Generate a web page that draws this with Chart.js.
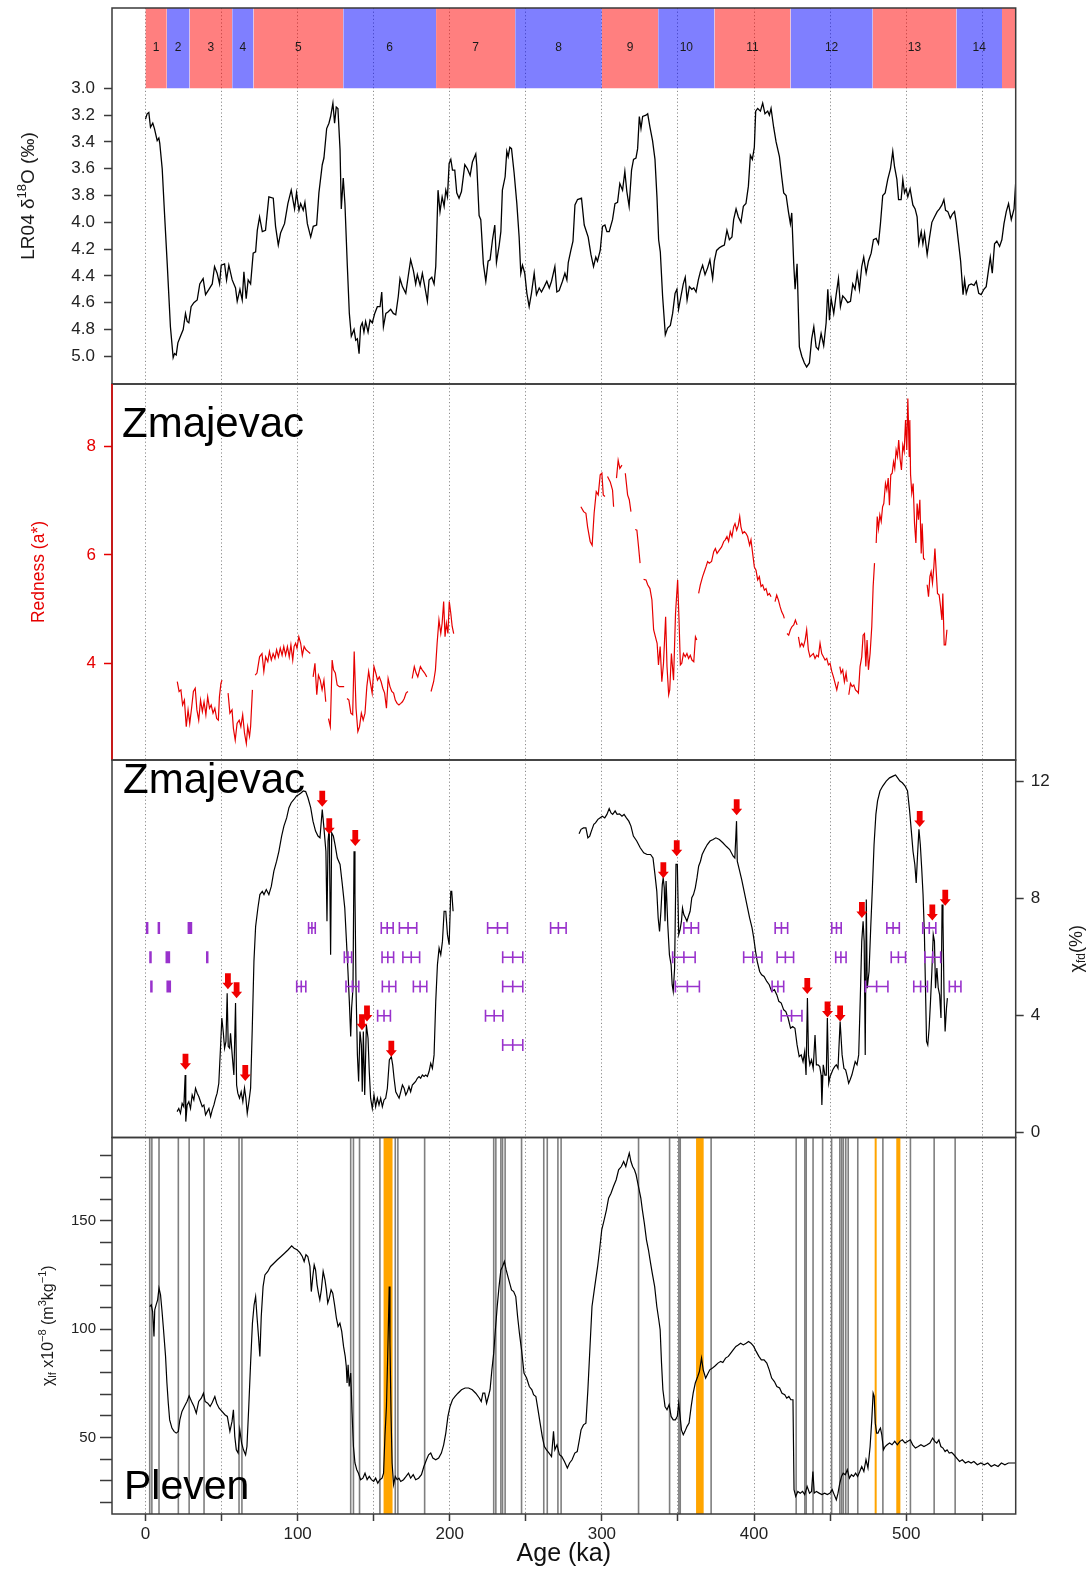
<!DOCTYPE html>
<html>
<head>
<meta charset="utf-8">
<script src="https://cdn.jsdelivr.net/npm/chart.js@4.4.0/dist/chart.umd.min.js"></script>
<style>
  html, body { margin: 0; padding: 0; background: #fff; }
  #wrap { position: relative; width: 1089px; height: 1571px; }
  #wrap canvas { position: absolute; left: 0; top: 0; }
</style>
</head>
<body>
<div id="wrap">
  <canvas id="c1" width="1089" height="1571"></canvas>
  <canvas id="c2" width="1089" height="1571"></canvas>
  <canvas id="c3" width="1089" height="1571"></canvas>
  <canvas id="c4" width="1089" height="1571"></canvas>
</div>
<script>
// ---- data (age in ka) ----
const misStart = [0, 14, 29, 57, 71, 130, 191, 243, 300, 337, 374, 424, 478, 533, 563];
const misEnd   = [14, 29, 57, 71, 130, 191, 243, 300, 337, 374, 424, 478, 533, 563, 572];
const misLabel = ['1','2','3','4','5','6','7','8','9','10','11','12','13','14',''];

// LR04 benthic d18O [age, permil]
const d18O = [[0,3.23],[1.1,3.19],[2.2,3.18],[3.3,3.29],[4.8,3.26],[5.9,3.30],[7.7,3.39],[8.8,3.37],[9.4,3.41],[11,3.60],[12.5,3.93],[14.3,4.31],[16.4,4.78],[18.2,5.01],[19.1,4.98],[20.2,4.99],[21.3,4.90],[23,4.85],[24.8,4.80],[26.3,4.68],[27.4,4.74],[28.5,4.75],[30,4.63],[31.8,4.60],[34,4.58],[35.7,4.46],[37.9,4.42],[39.5,4.54],[41.7,4.50],[43.9,4.46],[45.4,4.33],[47.1,4.38],[48.7,4.46],[49.8,4.32],[52,4.31],[53.3,4.43],[54.8,4.32],[57,4.43],[59.2,4.49],[60.3,4.59],[62.1,4.50],[63.6,4.58],[64.7,4.37],[66.2,4.57],[67.5,4.43],[69.1,4.46],[70.8,4.23],[72.4,4.22],[73.5,4.06],[75,3.96],[76.8,4.07],[78.9,4.06],[81.1,3.81],[84,3.82],[85.5,4.03],[87.3,4.17],[88.8,4.08],[91.4,4.01],[93.6,3.86],[95.8,3.76],[98,3.90],[99.3,3.78],[100.9,3.91],[102,3.86],[103.7,3.91],[104.8,3.85],[106.4,4.01],[108.6,4.11],[110.3,4.03],[112.5,4.02],[114,3.78],[116.2,3.57],[117.3,3.52],[119.1,3.30],[120.6,3.26],[121.7,3.21],[123.2,3.11],[124.3,3.26],[125.4,3.14],[126.5,3.15],[127.9,3.46],[128.7,3.90],[130,3.67],[131.1,3.86],[132.7,4.33],[134,4.68],[135.3,4.85],[137.1,4.80],[138.2,4.88],[139.3,4.87],[140.4,4.98],[141.4,4.78],[142.5,4.75],[143.6,4.82],[144.7,4.74],[146.3,4.82],[147.6,4.73],[149.1,4.75],[150.7,4.68],[152.4,4.63],[154.2,4.63],[155.3,4.52],[156.4,4.78],[158,4.68],[159.4,4.67],[161.2,4.65],[162.9,4.68],[164.5,4.69],[166.2,4.55],[167.3,4.42],[168.9,4.48],[171.1,4.53],[172.6,4.41],[174.3,4.28],[176.1,4.36],[177.6,4.46],[178.7,4.39],[180.5,4.47],[182,4.38],[183.6,4.48],[185.3,4.59],[186.4,4.43],[188.2,4.41],[189.7,4.46],[190.8,4.33],[192.3,3.76],[193.6,3.92],[195,3.81],[196.3,3.88],[197.4,3.76],[198.5,3.81],[199.6,3.56],[200.7,3.53],[201.8,3.61],[203.3,3.61],[204.6,3.78],[206.1,3.82],[207.7,3.77],[209.9,3.57],[211.6,3.60],[213.4,3.65],[214.9,3.55],[217.1,3.49],[217.8,3.58],[219.3,3.95],[220.4,3.98],[222.1,4.31],[223.7,4.44],[225.2,4.29],[226.5,4.28],[228.1,4.13],[229.6,4.02],[230.7,4.30],[232.5,4.17],[233.6,4.07],[234.6,3.76],[236.4,3.66],[237.5,3.47],[238.4,3.51],[239.5,3.44],[240.6,3.45],[242.3,3.63],[244.1,3.86],[245.6,4.11],[246.7,4.38],[247.8,4.32],[249.3,4.38],[250.7,4.53],[252.2,4.63],[253.7,4.53],[255.5,4.38],[257,4.54],[258.8,4.49],[260.3,4.52],[262.1,4.48],[263.8,4.44],[265.4,4.49],[266.9,4.44],[269.1,4.33],[270.4,4.52],[271.9,4.51],[274.1,4.44],[275.7,4.38],[277,4.43],[277.9,4.30],[279.6,4.21],[281,4.14],[282.3,3.87],[284,3.83],[286.6,3.82],[288.4,4.02],[291,4.11],[292.8,4.24],[294.5,4.33],[296,4.26],[297.1,4.29],[298.9,4.21],[300.4,4.03],[302,4.02],[303.3,4.07],[304.8,4.07],[307,3.98],[308.6,3.86],[310.3,3.85],[311.8,3.71],[313.6,3.76],[315.1,3.62],[316.4,3.77],[317.9,3.88],[319.5,3.61],[320.8,3.53],[322.4,3.52],[323.5,3.45],[324.6,3.21],[325.7,3.30],[326.8,3.21],[329,3.20],[330.1,3.19],[331.6,3.29],[333.3,3.39],[334.9,3.53],[336.2,3.81],[337.3,4.13],[338.4,4.22],[339.9,4.55],[341.7,4.84],[343.2,4.79],[345,4.77],[346.5,4.68],[348.1,4.53],[349.3,4.50],[350.4,4.65],[352,4.55],[353.5,4.46],[354.8,4.41],[356,4.58],[357.5,4.48],[359.1,4.50],[360.4,4.49],[361.9,4.52],[363.4,4.43],[364.7,4.37],[366.2,4.32],[367.8,4.39],[369.5,4.34],[371,4.28],[372.8,4.42],[373.9,4.29],[375.4,4.21],[377.2,4.19],[378.7,4.18],[380.5,4.17],[382.2,4.06],[383.8,4.13],[385.5,4.11],[386.6,3.98],[388.2,3.90],[389.7,3.96],[391.4,4.00],[393,3.88],[394.7,3.86],[396.3,3.73],[397.6,3.50],[398.9,3.53],[400.2,3.44],[401.1,3.17],[402.4,3.15],[404.2,3.17],[405.7,3.11],[407.2,3.19],[409,3.17],[410.1,3.20],[411.2,3.15],[412.9,3.29],[414.5,3.40],[416.7,3.51],[418.2,3.66],[419.5,3.78],[421.1,3.80],[422.6,3.92],[423.9,4.01],[424.8,3.93],[426.1,4.31],[427,4.50],[428.3,4.31],[429.8,4.93],[431.4,5.00],[433.1,5.05],[434.6,5.08],[436.4,5.05],[437.9,4.87],[439.3,4.78],[440.8,4.93],[442.3,4.95],[444.1,4.83],[445.8,4.92],[447.4,4.75],[448.5,4.50],[449.6,4.73],[450.7,4.57],[452.4,4.68],[454,4.54],[455.5,4.42],[456.8,4.63],[458.3,4.55],[459.9,4.57],[461.6,4.60],[463.4,4.59],[464.9,4.46],[466.4,4.50],[467.8,4.38],[469.3,4.50],[470.8,4.33],[472.1,4.26],[473.7,4.38],[475.2,4.29],[477,4.23],[478.5,4.13],[480.3,4.12],[481.8,4.16],[483.1,4.01],[484.6,3.80],[486.2,3.78],[487.9,3.68],[489.7,3.60],[491.2,3.47],[492.3,3.58],[493.9,3.68],[495,3.83],[496.7,3.83],[497.8,3.68],[498.9,3.78],[500,3.75],[501.1,3.81],[502.6,3.75],[504.4,3.87],[505.9,3.90],[507.2,3.96],[508.3,4.16],[509.9,4.07],[511,4.16],[512.1,4.08],[513.8,4.24],[515.4,4.11],[516.9,4.00],[518.6,3.96],[520.4,3.92],[521.9,3.90],[523.5,3.87],[524.8,3.83],[525.9,3.91],[527.4,3.92],[529,3.97],[530.3,3.94],[531.8,3.92],[532.9,4.00],[534.5,4.16],[535.8,4.29],[537.4,4.54],[538.4,4.43],[539.5,4.53],[541.1,4.47],[542.8,4.46],[544.6,4.47],[546.1,4.44],[547.7,4.53],[549.3,4.54],[551.1,4.50],[552.6,4.48],[553.7,4.39],[555.3,4.26],[556.6,4.38],[558.1,4.16],[559.6,4.14],[561.4,4.18],[562.9,4.13],[564.3,4.01],[565.8,3.92],[567.3,3.86],[569.1,3.98],[570.9,3.90],[572.4,3.63]];

// Zmajevac redness a* [age, a*]; null = gap in record
const redness = [[20.9,3.66],[22.1,3.48],[23.3,3.51],[24.4,3.23],[25.6,3.32],[26.8,2.83],[28,3.14],[29.1,2.89],[30.3,3.17],[31.5,3.48],[32.7,3.54],[33.8,3.14],[35,2.95],[36.2,3.32],[37.4,3.11],[38.5,3.29],[39.7,3.05],[40.9,3.38],[42.1,3.17],[43.2,3.23],[44.4,3.08],[45.6,3.17],[46.8,2.98],[47.9,2.95],[48.6,3.38],[49.6,3.63],[50.3,3.69],[52,null],
[54.3,3.45],[55.5,3.08],[56.9,3.14],[57.8,2.80],[59,2.58],[60.2,2.89],[61.6,2.95],[62.7,2.83],[63.9,3.05],[65.1,2.71],[66.3,2.52],[67.2,2.83],[68.4,2.65],[69.1,2.83],[70.3,3.51],[71.2,null],
[72.1,3.78],[73.3,3.82],[75,4.12],[76.6,4.18],[77.8,3.85],[79,4.12],[80.4,4.03],[81.5,4.22],[82.7,4.06],[83.9,4.18],[85.1,4.09],[86.2,4.25],[87.4,4.12],[88.6,4.28],[89.8,4.15],[90.9,4.31],[92.1,4.15],[93.3,4.31],[94.5,4.12],[95.6,4.34],[96.8,4.06],[97.7,4.31],[98.7,4.37],[99.6,4.28],[100.8,4.49],[102,4.37],[103.1,4.15],[104.3,4.31],[105.5,4.25],[106.7,4.22],[108.3,4.18],[109.2,null],
[110.2,3.75],[111.4,4.00],[112.6,3.42],[113.7,3.78],[114.9,3.69],[116.1,3.51],[117.3,3.69],[118.5,3.29],[119.4,null],
[120.3,2.98],[121.5,2.83],[122.7,4.06],[123.6,3.88],[124.8,3.82],[126,3.60],[127.4,3.57],[129,3.57],[130.6,3.57],[131.5,null],
[132.5,3.35],[133.7,3.32],[135,3.08],[136.2,3.05],[137.2,4.22],[138.4,3.17],[139.6,2.74],[140.7,2.83],[141.9,3.08],[143.1,2.95],[144.3,3.08],[145.5,3.57],[146.7,3.85],[147.9,3.63],[149,3.45],[150.2,3.94],[151.4,3.82],[152.5,3.69],[153.7,3.75],[154.9,3.66],[156,3.54],[157.2,3.45],[158.4,3.17],[159.5,3.72],[160.7,3.57],[161.9,3.48],[163.1,3.45],[164.2,3.32],[165.4,3.26],[166.6,3.23],[167.8,3.26],[168.9,3.29],[170.1,3.35],[171.3,3.45],[172.5,3.48],[174,null],
[175.3,3.72],[176.7,3.94],[177.9,3.82],[179,3.75],[180.7,3.94],[181.9,3.88],[183.5,3.82],[184.9,3.75],[186.3,null],
[187.7,3.48],[189.4,3.66],[190.6,3.88],[191.7,4.37],[192.9,4.80],[194.1,4.55],[195,4.74],[196,5.14],[196.9,4.49],[197.8,4.74],[198.8,4.55],[199.7,5.14],[200.7,4.92],[201.6,4.68],[202.6,4.55],[244,null],
[286.2,6.89],[288,6.80],[289.5,6.77],[290.6,6.52],[292.3,6.25],[293.6,6.18],[294.9,6.77],[296.3,7.17],[297.6,7.11],[298.9,7.48],[300,7.51],[300.9,7.11],[302,7.08],[302.8,null],
[303.7,7.45],[305.5,7.35],[307,7.20],[307.7,6.89],[308.6,null],
[309.6,7.42],[310.7,7.75],[311.8,7.60],[313.2,7.66],[314.3,null],
[315.4,7.51],[316.9,7.11],[318,7.02],[319.1,6.80],[320.5,null],
[321.9,6.47],[323,6.46],[324,6.18],[325.1,5.85],[326.2,null],
[327.4,5.55],[329,5.54],[330.1,5.45],[331.6,5.38],[332.9,5.17],[334,4.62],[335.2,4.49],[336.3,4.37],[337.2,3.97],[338.3,4.31],[339.4,3.66],[340.5,4.00],[341.9,4.86],[342.8,3.94],[343.9,3.42],[344.6,3.51],[345.7,4.18],[347.1,3.69],[348.4,4.92],[349.8,5.54],[350.7,4.80],[351.6,3.97],[352.5,4.00],[353.6,4.18],[354.8,4.12],[355.9,4.18],[357,4.09],[358.1,4.15],[359.2,4.06],[360.4,4.03],[361.5,4.49],[362.4,4.43],[363,null],
[363.6,5.29],[364.7,5.45],[366.2,5.60],[367.3,5.69],[368.4,5.78],[369.5,5.88],[370.6,5.85],[372.1,5.88],[373.5,6.06],[374.6,6.12],[375.7,6.03],[377.2,6.09],[378.7,6.15],[380.1,6.25],[381.1,6.28],[382.2,6.34],[383.3,6.25],[384.4,6.43],[385.5,6.34],[386.6,6.52],[387.5,6.58],[388.6,6.46],[389.7,6.55],[390.6,6.71],[391.4,6.52],[392.5,6.40],[393.6,6.43],[394.7,6.40],[395.8,6.34],[397.1,6.18],[398,6.28],[399.1,6.03],[400.2,5.78],[401.3,5.72],[402.4,5.54],[403.5,5.60],[404.6,5.42],[405.7,5.45],[406.8,5.35],[407.9,5.38],[409,5.26],[410.1,5.29],[411.2,5.23],[412.5,null],
[413.8,5.14],[414.9,5.26],[416,5.17],[417.1,5.05],[418.2,4.95],[419.3,4.89],[419.9,4.83],[420.8,null],
[421.7,4.55],[422.8,4.52],[423.9,4.62],[425,4.68],[426.1,4.71],[427.2,4.80],[428.3,4.71],[428.8,null],
[429.2,4.49],[430.3,4.31],[431.4,4.37],[432.5,4.31],[433.6,4.43],[434.6,4.62],[435.7,4.25],[436.8,4.12],[437.9,4.15],[439,4.18],[440.1,4.09],[441.2,4.15],[442.3,4.12],[443.4,4.37],[444.5,4.18],[445.6,4.12],[446.7,4.06],[447.8,4.09],[448.9,3.97],[450,4.00],[451.1,3.85],[452.2,3.75],[453.3,3.63],[454.4,3.51],[455.5,3.66],[456,null],
[456.4,3.94],[457.2,3.82],[458.3,3.88],[459.4,3.66],[460.5,3.82],[461.2,3.66],[461.8,null],
[462.3,3.42],[463.4,3.63],[464.5,3.57],[465.6,3.60],[466.7,3.51],[467.8,3.48],[468.6,3.45],[469.7,3.94],[470.8,4.12],[471.7,4.52],[472.6,4.55],[473.5,3.94],[474.3,4.43],[475.2,3.88],[476.3,4.18],[477.4,4.68],[478.3,5.42],[479.2,5.85],[479.8,null],
[480.3,6.22],[481,6.71],[481.8,6.49],[482.7,6.74],[483.6,6.62],[484.5,6.89],[485.3,6.95],[486.4,7.32],[487.3,7.20],[488.2,7.42],[489,6.92],[489.9,7.48],[490.8,7.51],[491.7,7.72],[492.5,7.60],[493.4,7.94],[494.3,7.82],[495.1,8.12],[496,7.78],[496.9,7.57],[497.8,8.03],[498.7,7.91],[499.6,8.49],[500.4,7.94],[501.1,8.89],[501.5,8.46],[502,7.82],[502.4,8.49],[502.9,7.48],[503.7,7.14],[504.6,7.32],[505.5,6.58],[506.4,6.22],[507.2,6.95],[508.1,6.65],[509,7.02],[509.9,6.03],[510.5,6.58],[511.4,5.94],[512.3,5.91],[513,null],
[513.8,5.45],[514.7,5.23],[515.6,5.60],[516.4,5.69],[517.3,5.48],[518.2,5.78],[518.9,6.12],[519.7,5.72],[520.6,5.29],[521.7,5.26],[522.6,5.05],[523.5,4.80],[524.1,5.29],[525,4.34],[525.9,4.34],[526.8,4.62]];

// Zmajevac chi_fd (%) [age, %]
const chiFd = [[20.8,0.72],[21.9,0.83],[23,0.66],[24.1,1.00],[25.2,0.89],[26.1,1.97],[26.5,0.38],[27.4,0.95],[28.5,1.06],[29.6,0.83],[30.7,1.29],[31.8,1.12],[32.9,1.52],[34,1.35],[35.1,1.23],[36.2,1.06],[37.3,0.89],[38.4,0.95],[39.5,0.61],[40.6,0.72],[41.7,0.83],[42.8,0.55],[43.9,0.78],[45,0.95],[46.1,1.18],[47.1,1.35],[48.2,1.69],[49.3,2.89],[50.2,3.92],[51.1,3.46],[52,2.89],[52.9,3.12],[53.7,4.77],[54.4,2.95],[55.3,2.89],[55.9,3.40],[57,2.66],[58.1,1.97],[59.2,4.43],[59.9,1.63],[60.7,1.35],[61.8,1.18],[62.9,1.40],[64,1.06],[65.1,1.52],[66,1.18],[66.9,0.66],[68,1.06],[69.1,1.52],[70.2,3.57],[71.3,5.86],[72.4,7.05],[73.9,7.68],[75.2,8.14],[76.8,8.25],[77.9,8.14],[79.4,8.31],[81.1,8.14],[82.7,8.42],[84.4,8.94],[86.2,9.28],[87.7,9.62],[89.5,10.14],[91,10.48],[92.8,10.76],[94.3,11.11],[95.8,11.28],[97.6,11.39],[99.3,11.51],[100.9,11.56],[102.4,11.62],[103.7,11.68],[105.3,11.66],[106.8,11.45],[108.6,11.11],[110.1,10.65],[111.8,10.31],[113.4,10.14],[114.7,10.08],[116.2,11.05],[117.3,10.42],[118.6,9.62],[119.3,7.23],[120,9.97],[120.8,10.42],[121.7,6.08],[122.4,10.25],[123.5,10.14],[124.6,9.85],[126.1,9.39],[127.9,9.17],[129.4,8.48],[131,7.68],[132,6.66],[133.1,5.51],[134,4.49],[134.9,3.29],[135.5,4.26],[136.4,4.94],[137.1,9.62],[137.7,8.14],[138.4,4.94],[139.3,2.66],[140.1,1.75],[141,3.46],[141.9,3.00],[142.5,1.40],[143.2,3.46],[144.1,1.29],[145.2,3.69],[146.3,3.23],[147.1,2.09],[148,1.18],[149.1,0.83],[150.2,1.29],[151.3,0.89],[152.4,1.18],[153.5,0.95],[154.6,1.18],[155.7,0.89],[156.8,1.12],[157.9,1.18],[159,1.52],[160.3,2.49],[161.6,2.60],[162.5,2.32],[163.4,1.86],[164.5,1.40],[165.6,1.29],[166.7,1.18],[167.8,1.40],[168.9,1.63],[170,1.52],[171.1,1.29],[172.1,1.40],[173.2,1.58],[174.3,1.40],[175.4,1.63],[176.5,1.69],[177.6,1.75],[178.7,1.86],[179.8,1.92],[180.9,1.86],[182,1.97],[183.1,1.92],[184.2,1.97],[185.3,1.92],[186.4,2.09],[187.5,2.37],[188.6,2.20],[189.7,2.66],[190.8,4.49],[191.9,5.74],[193,6.31],[194.1,6.08],[195.2,6.54],[196.3,7.57],[197.4,7.57],[198.5,6.77],[199.6,6.43],[200.7,8.25],[201.3,8.25],[202.2,7.57],[240,null],
[285,10.22],[286.3,10.37],[287.9,10.42],[289.5,10.42],[290.8,10.08],[292,10.14],[293.1,10.31],[294.7,10.54],[295.8,10.59],[297.4,10.71],[298.7,10.76],[300.3,10.82],[301.9,10.76],[303.3,10.88],[304.8,11.08],[306,10.93],[307.1,10.88],[308.7,11.0],[310,10.88],[311.6,10.90],[313.2,10.82],[314.6,10.88],[316.1,10.76],[317.7,10.65],[319.1,10.48],[320.7,10.14],[322.9,9.97],[325.2,9.74],[327.5,9.57],[329.7,9.51],[332,9.51],[333.6,9.39],[334.9,8.82],[336.1,8.25],[337,7.34],[337.9,6.88],[338.8,7.57],[339.7,8.48],[340.3,8.71],[341,8.37],[341.5,7.23],[342.2,8.60],[343.3,7.11],[344.4,6.08],[345.5,5.74],[346.2,5.06],[346.9,4.83],[347.8,5.63],[348.7,9.17],[349.6,9.17],[350.5,6.77],[351.4,6.94],[352.3,7.23],[353,7.68],[353.9,7.45],[355,7.34],[355.9,7.23],[356.9,7.40],[358,7.57],[359.1,8.03],[360.2,8.14],[361.4,8.37],[362.5,8.71],[363.6,9.11],[364.8,9.28],[365.9,9.51],[367.5,9.68],[369.3,9.85],[371.1,9.97],[373.1,10.02],[374.9,10.08],[377.2,10.02],[379.5,9.91],[381.7,9.79],[384,9.68],[386.3,9.45],[387.4,9.39],[388.5,10.65],[389,9.28],[390.3,9.00],[391.9,8.65],[393.5,8.25],[395.3,7.80],[397.1,7.34],[398.7,7.00],[399.8,6.66],[401,6.20],[402.1,5.86],[403.7,5.51],[405,5.40],[406.6,5.34],[408.4,5.17],[410,5.06],[411.6,4.83],[413.4,4.89],[415,4.71],[416.3,4.49],[417.9,4.43],[419.5,4.20],[420.9,4.14],[422.4,3.92],[424,3.57],[425.4,3.63],[426.9,3.57],[428.3,3.00],[429.7,2.60],[431,2.66],[432.2,2.43],[433.3,2.77],[434.2,1.97],[435.1,4.60],[435.8,2.66],[436.7,2.32],[437.8,2.49],[438.9,2.20],[440.1,3.34],[441,2.32],[442.1,2.32],[443.2,2.26],[444.1,1.97],[444.6,0.95],[445.5,2.32],[446.6,1.97],[447.5,1.97],[448.2,3.92],[449.1,1.69],[450,1.92],[450.9,2.03],[451.8,2.15],[453,2.26],[454.1,2.32],[455.2,2.20],[456.6,3.80],[457.9,2.66],[459.1,2.20],[460.2,2.15],[461.3,1.92],[462.2,1.69],[463.1,1.80],[464.3,1.97],[465.4,2.20],[466.5,2.43],[467.7,2.32],[468.8,2.66],[469.9,4.71],[470.8,6.54],[471.7,7.23],[472.4,6.54],[473.1,2.66],[473.8,7.97],[474.4,4.94],[475.6,5.51],[476.7,7.00],[477.8,8.37],[478.9,9.85],[480.1,10.88],[481.2,11.34],[482.8,11.68],[484.6,11.85],[486.9,12.02],[489.1,12.13],[491.4,12.19],[493,12.23],[494.4,12.13],[495.9,12.02],[497.5,11.96],[499.3,11.85],[500.9,11.68],[502.3,10.99],[503.4,10.31],[504.5,9.62],[505.7,9.17],[506.6,8.54],[507.5,9.51],[508.4,10.37],[509.3,9.85],[510.2,9.05],[511.1,8.14],[512,6.77],[512.7,4.94],[513.4,3.12],[514.2,3.00],[515.1,3.57],[516,4.49],[516.9,5.51],[517.8,6.77],[518.6,6.54],[519.3,4.94],[520.2,5.63],[521.1,4.94],[522,4.71],[522.9,3.92],[523.6,7.80],[524.2,7.23],[524.9,4.71],[525.6,3.46],[526.5,4.26],[527.1,4.60]];

// red arrows on chi_fd: age, arrow tip value
const arrowAge = [26.3, 54.2, 59.9, 65.6, 116.2, 120.8, 137.9, 142.3, 145.6, 161.6, 340.4, 349.2, 388.6, 435, 448.3, 456.6, 470.9, 508.9, 517.2, 525.7];
const arrowVal = [2.15, 4.9, 4.6, 1.77, 11.14, 10.2, 9.8, 3.5, 3.8, 2.6, 8.7, 9.45, 10.85, 4.74, 3.94, 3.8, 7.34, 10.45, 7.25, 7.76];

// purple age markers: age, +/- error, row level on chi_fd axis
const markAge = [1.1, 8.8, 29.2, 109.4, 158.9, 172.6, 231.4, 271.4, 358.7, 418.0, 454.2, 491.4, 515.2,
                 3.3, 14.7, 40.6, 133.1, 159.3, 174.7, 241.4, 353.9, 399.2, 420.6, 457.1, 494.9, 517.5,
                 3.9, 15.3, 102.4, 136.0, 160.1, 180.5, 241.4, 356.2, 415.7, 480.6, 509.5, 532.2,
                 156.8, 229.2, 424.7,
                 241.4];
const markErr = [0.3, 0.3, 1.0, 2.2, 3.9, 5.7, 6.5, 5.1, 4.8, 4.1, 3.1, 4.1, 4.3,
                 0.3, 1.0, 0.3, 2.4, 3.8, 5.5, 6.6, 7.4, 6.0, 5.4, 3.4, 4.7, 5.2,
                 0.3, 1.0, 3.0, 4.2, 4.4, 4.4, 6.6, 7.9, 3.8, 7.4, 4.5, 3.8,
                 4.2, 5.7, 6.8,
                 6.6];
const markRow = [7,7,7,7,7,7,7,7,7,7,7,7,7,
                 6,6,6,6,6,6,6,6,6,6,6,6,6,
                 5,5,5,5,5,5,5,5,5,5,5,5,
                 4,4,4,
                 3];

// Pleven chi_lf x1e-8 m3/kg [age, value]
const chiLf = [[2.8,110.4],[3.8,111.2],[4.7,108.1],[5.6,96.6],[6.1,108.9],[7,111.2],[8,113.5],[8.9,118.9],[9.9,115.8],[10.8,108.9],[11.7,101.2],[13.2,87.4],[14.1,75.1],[15,65.8],[15.9,58.1],[17.4,54.3],[18.8,52.8],[20.2,52],[21.6,52.8],[22.6,58.1],[24,62],[25.6,64.3],[27.3,66.6],[28.7,69.2],[30.3,66.6],[31.9,64.3],[33.4,61.2],[35,66.6],[36.7,68.1],[38.1,70.4],[39.2,66.6],[40.9,65.8],[42.5,64.3],[43.9,66.1],[45.6,68.9],[46.8,65.8],[48.4,63.5],[50.3,62],[52.2,60.5],[53.8,59.7],[55.5,52.8],[56.9,57.4],[57.8,62.8],[58.7,50.5],[59.7,44.3],[60.9,42.8],[62,53.5],[63.2,47.4],[64.4,44.3],[65.8,42],[66.7,45.8],[67.9,64.3],[69.1,84.3],[70.3,102.7],[71.4,111.2],[72.4,115],[73.3,105.8],[74.3,96.6],[75.2,87.4],[76.1,105.8],[77.3,119.6],[78.5,125],[80.4,126.6],[82.2,128.9],[84.4,130.4],[86.7,132],[89.1,133.5],[91.4,135],[93.8,136.6],[96.1,138.4],[97.7,137.3],[99.6,136.6],[101.5,135.3],[103.1,133.5],[104.3,131.2],[105.5,134.3],[106.7,133.5],[108.1,128.9],[109,117.3],[110,124.3],[110.9,129.6],[111.8,127.3],[112.8,120.4],[113.7,116.6],[114.6,113.5],[115.6,118.1],[116.8,126.6],[118,122.7],[118.9,118.1],[119.8,112],[120.8,114.3],[122,118.1],[123.1,116.6],[124.3,111.2],[125.5,105],[126.6,101.2],[127.8,102.7],[129,98.9],[130.2,92],[131.3,87.4],[132,82.7],[132.5,75.1],[133.2,83.5],[133.9,73.5],[134.9,79.7],[135.8,61.2],[136.7,45.8],[137.7,38.2],[138.9,35.1],[140,33.5],[141.4,30.5],[142.9,31.2],[144.3,33.5],[145.7,30.5],[147.1,32],[148.5,30.5],[150,29.7],[151.3,31.2],[152.7,28.9],[154.1,30.5],[155.5,31.2],[156.5,33.5],[157.4,50.5],[158.4,64.3],[159.1,84.3],[159.8,105.8],[160.2,119.6],[160.7,93.5],[161.4,61.2],[162.1,38.2],[163.1,28.2],[164.2,32],[165.4,30.5],[166.6,31.2],[167.8,29.7],[169.6,30.5],[171.3,32],[172.9,33.5],[174.3,31.2],[176,32.8],[177.6,30.5],[179.5,31.2],[181.4,32.8],[183,36.6],[184.7,39.7],[186.1,42],[187.5,42.8],[188.9,40.5],[190.8,39.7],[192.7,40.5],[194.5,42.8],[196,46.6],[197.4,52],[198.8,59.7],[200.2,64.3],[201.8,67.4],[203.5,68.9],[205.4,70.4],[207.7,72],[210.1,72.8],[212.4,72.8],[214.8,72],[217.1,70.4],[219.5,68.1],[220.7,66.6],[221.8,70.4],[223,70.4],[224.2,65.8],[225.4,68.9],[226.5,72],[227.7,81.2],[228.9,88.9],[230,99.7],[231.2,110.4],[232.4,119.6],[233.6,127.3],[234.7,128.9],[235.9,131.2],[237.1,127.3],[238.2,124.3],[239.4,121.2],[240.6,118.1],[242,117.3],[243.4,115],[244.6,105.8],[245.8,98.1],[247.2,90.4],[248.8,79.7],[250.5,77.4],[252.3,73.5],[254,72],[255.1,69.7],[256.6,68.9],[258,62.8],[259.4,56.6],[260.8,50.5],[262.2,45.8],[263.6,44.3],[265.3,42.8],[266.9,41.2],[268.2,52.8],[269.1,44.3],[270.5,46.6],[272.1,42],[273.6,41.2],[275.4,38.9],[277.3,35.9],[278.8,38.2],[280.4,39.7],[282.2,42.8],[283.8,43.5],[285.2,48.9],[286.3,53.5],[287.9,55.8],[289.5,56.6],[290.8,72],[292.2,92],[293.5,110.4],[295.3,119.6],[297.2,128.9],[298.5,136.6],[299.9,145.8],[301.5,150.4],[303,155],[304.4,160.4],[306,162.7],[307.6,165.8],[309.4,168.9],[311,173.5],[312.8,175],[314.3,177.3],[315.7,175],[316.8,178.1],[318,181.2],[319.1,177.3],[320.2,175],[321.4,173.5],[322.5,171.2],[323.6,167.3],[324.7,163.5],[325.6,160.4],[326.6,155],[327.9,148.9],[329.3,141.2],[330.6,136.6],[332,130.4],[333.1,125.8],[334.7,119.6],[336.1,110.4],[337.4,104.3],[338.3,99.7],[339.2,84.3],[340.1,72],[341.5,64.3],[342.8,62.8],[344.2,65.1],[345.5,59.7],[346.9,58.1],[348.3,58.1],[349.6,59.7],[350.5,65.8],[351.4,59.7],[352.3,53.5],[353.5,51.2],[354.6,52.8],[356,55.1],[357.3,56.6],[358.7,64.3],[360,70.4],[361.4,75.1],[363,78.1],[364.1,80.4],[365.5,86.6],[366.6,81.2],[368.2,77.4],[369.3,78.9],[370.9,81.2],[372.7,82],[374.5,83.1],[376.3,84.3],[378.1,85.1],[379.5,84.6],[381.3,86.6],[383.1,87.4],[384.7,88.9],[386.3,90.4],[388.1,92],[389.6,92.7],[391.2,93.5],[393,92.7],[394.8,93.5],[396.4,94.3],[398,93.5],[399.8,92],[401.4,89.7],[403.2,87.4],[404.8,85.8],[406.6,85.8],[408.4,84.3],[410,81.2],[411.6,77.4],[413.4,75.8],[415,73.5],[416.8,72.8],[418.4,70.4],[420.2,69.7],[421.5,68.1],[422.9,68.9],[424.2,67.4],[425.6,67.4],[426.3,25.9],[427.4,22.8],[428.8,25.1],[430.4,24.3],[431.9,25.1],[433.3,23.6],[434.9,27.4],[436.5,24.3],[437.8,25.1],[438.7,34.3],[439.6,24.3],[441,25.1],[442.8,24.3],[444.6,23.6],[446.4,24.3],[448.2,23.6],[450,24.3],[451.4,25.9],[452.7,23.6],[454.1,21.2],[455.2,24.3],[456.4,28.9],[457.5,32],[458.6,33.5],[460,32.8],[461.3,35.1],[462.7,31.2],[464,32.8],[465.4,32],[466.8,33.5],[468.1,32],[469.5,34.3],[470.8,36.6],[472.2,34.3],[473.6,39.7],[474.9,35.9],[476.3,45.8],[477.4,58.1],[478.3,70.4],[479,68.9],[479.7,56.6],[480.6,52],[481.5,52],[482.4,53.5],[483.1,54.3],[484,51.2],[485.1,44.3],[486.2,45.8],[487.5,46.6],[489.1,47.4],[490.7,46.6],[492.5,48.2],[494.2,46.6],[495.9,48.2],[497.5,48.9],[499.3,47.4],[501.1,48.2],[502.7,48.9],[504.3,46.6],[506.1,45.1],[507.9,45.8],[509.7,46.6],[511.7,45.8],[513.8,46.6],[515.6,47.4],[517.4,49.7],[518.8,48.2],[520.1,47.4],[521.5,48.9],[522.8,45.8],[524.2,45.1],[525.6,43.5],[526.9,44.3],[528.3,42.8],[529.9,43.1],[531.4,42],[533.2,40.5],[535.1,38.9],[536.9,39.7],[538.9,38.2],[540.9,38.9],[542.7,38.2],[544.5,38.9],[546.8,37.4],[549.1,38.2],[551.3,37.4],[553.6,38.2],[555.9,36.6],[558.1,37.4],[560.4,36.6],[562.6,38.2],[564.9,37.4],[567.2,38.2],[569.4,38.2],[572,38.2]];

// tephra / marker horizons in Pleven (ka)
const tephraAge = [2.8, 4.2, 8.9, 21.6, 28.7, 38.5, 61.5, 63.4, 134.9, 136.7, 140.7, 154.1, 164.2, 165.9, 183.5, 228.9, 230.3, 233.6, 234.7, 236.4, 247.2, 261.8, 264.1, 271.1, 273.2, 324.1, 344.5, 350.6, 351.5, 371.8, 427.7, 433.4, 434.3, 438.8, 445.1, 451.0, 456.4, 457.6, 458.7, 460.3, 461.9, 468.2, 484.7, 502.8, 518.4, 532.2];
const orangeStart = [156.5, 361.9, 479.3, 493.5];
const orangeEnd   = [162.4, 366.9, 480.4, 496.2];

// ---- drawing ----
const FONT = "'Liberation Sans', Arial, Helvetica, sans-serif";
Chart.defaults.font.family = FONT;
Chart.defaults.color = '#222';
const AXIS = '#3a3a3a';
const RED = '#e60000';
const X_MIN = -22, X_MAX = 572;

const pts = arr => arr.map(p => ({x: p[0], y: p[1]}));

// frame around each panel
const framePlugin = {
  id: 'frame',
  afterDraw(chart, args, o) {
    const a = chart.chartArea, ctx = chart.ctx;
    ctx.save();
    ctx.strokeStyle = AXIS;
    ctx.lineWidth = 1.5;
    ctx.strokeRect(a.left, a.top, a.right - a.left, a.bottom - a.top);
    if (o && o.leftColor) {
      ctx.strokeStyle = o.leftColor;
      ctx.beginPath(); ctx.moveTo(a.left, a.top); ctx.lineTo(a.left, a.bottom); ctx.stroke();
    }
    ctx.restore();
  }
};

// rotated axis titles with sub/superscripts
const richTitle = {
  id: 'richTitle',
  afterDraw(chart, args, o) {
    if (!o || !o.parts) return;
    const ctx = chart.ctx, a = chart.chartArea;
    const size = o.size;
    const fontFor = k => (k ? Math.round(size * 0.68) : size) + 'px ' + FONT;
    ctx.save();
    ctx.translate(o.x, (a.top + a.bottom) / 2);
    ctx.rotate(-Math.PI / 2);
    ctx.fillStyle = o.color || '#1a1a1a';
    ctx.textBaseline = 'middle';
    ctx.textAlign = 'left';
    let total = 0;
    o.parts.forEach(([t, k]) => { ctx.font = fontFor(k); total += ctx.measureText(t).width; });
    let x = -total / 2;
    o.parts.forEach(([t, k]) => {
      ctx.font = fontFor(k);
      const dy = k === 'sup' ? -size * 0.36 : (k === 'sub' ? size * 0.26 : 0);
      ctx.fillText(t, x, dy);
      x += ctx.measureText(t).width;
    });
    ctx.restore();
  }
};

// big site names
const siteLabel = {
  id: 'siteLabel',
  afterDraw(chart, args, o) {
    if (!o || !o.text) return;
    const ctx = chart.ctx;
    ctx.save();
    ctx.font = o.size + 'px ' + FONT;
    ctx.fillStyle = '#000';
    ctx.textBaseline = 'alphabetic';
    ctx.fillText(o.text, o.x, o.y);
    ctx.restore();
  }
};
Chart.register(framePlugin, richTitle, siteLabel);

function xAxis(bottom) {
  return {
    type: 'linear', min: X_MIN, max: X_MAX,
    ticks: {
      stepSize: 50, includeBounds: false, display: bottom, autoSkip: false, maxRotation: 0,
      padding: 3, color: '#222', font: {size: 17},
      callback: v => (v % 100 === 0 ? String(v) : '')
    },
    grid: { color: '#8c8c8c', lineWidth: 1, drawTicks: bottom, tickLength: 7, tickColor: AXIS, tickWidth: 1.5, tickBorderDash: [] },
    border: { display: false, dash: [1.2, 2.4] },
    title: bottom ? { display: true, text: 'Age (ka)', color: '#111', font: {size: 25}, padding: {top: 0, bottom: 2} } : { display: false },
    afterFit: s => { s.height = bottom ? 57 : 0; s.paddingLeft = 0; s.paddingRight = 0; }
  };
}

function fixedY(width) {
  return s => { s.width = width; s.paddingTop = 0; s.paddingBottom = 0; };
}

const base = { responsive: false, animation: false, events: [], devicePixelRatio: 1 };

// ---- panel 1: MIS stages + LR04 ----
const misSets = misStart.map((s, i) => ({
  type: 'line',
  data: [{x: s, y: 2.4}, {x: misEnd[i], y: 2.4}],
  borderWidth: 0, pointRadius: 0,
  fill: {value: 3.0},
  backgroundColor: i % 2 === 0 ? 'rgba(255,0,0,0.5)' : 'rgba(0,0,255,0.5)'
}));

const misText = {
  id: 'misText',
  afterDatasetsDraw(chart) {
    const xs = chart.scales.x, ys = chart.scales.y, ctx = chart.ctx;
    ctx.save();
    ctx.font = '12px ' + FONT;
    ctx.fillStyle = '#1a1a1a';
    ctx.textAlign = 'center';
    ctx.textBaseline = 'middle';
    misLabel.forEach((t, i) => {
      if (!t) return;
      ctx.fillText(t, xs.getPixelForValue((misStart[i] + misEnd[i]) / 2), ys.getPixelForValue(2.7));
    });
    ctx.restore();
  }
};

new Chart(document.getElementById('c1'), {
  type: 'line',
  data: { datasets: [...misSets, {
    data: pts(d18O), borderColor: '#000', borderWidth: 1.3, pointRadius: 0, fill: false, tension: 0
  }]},
  options: {
    ...base,
    layout: { padding: {top: 8, bottom: 1187, left: 0, right: 73.3} },
    plugins: {
      legend: {display: false}, tooltip: {enabled: false},
      richTitle: { x: 29, size: 19, parts: [['LR04 δ', ''], ['18', 'sup'], ['O (‰)', '']] }
    },
    scales: {
      x: xAxis(false),
      y: {
        type: 'linear', min: 2.4, max: 5.207, reverse: true,
        ticks: { stepSize: 0.2, autoSkip: false, padding: 9, color: '#222', font: {size: 17}, callback: v => Number(v).toFixed(1) },
        grid: { drawOnChartArea: false, drawTicks: true, tickLength: 8, tickColor: AXIS, tickWidth: 1.5 },
        border: { display: false },
        afterBuildTicks: s => { s.ticks = s.ticks.filter(t => t.value > 2.99 && t.value < 5.01); },
        afterFit: fixedY(112)
      }
    }
  },
  plugins: [misText]
});

// ---- panel 2: redness ----
new Chart(document.getElementById('c2'), {
  type: 'line',
  data: { datasets: [{
    data: pts(redness), borderColor: RED, borderWidth: 1.2, pointRadius: 0, fill: false, spanGaps: false, tension: 0
  }]},
  options: {
    ...base,
    layout: { padding: {top: 384, bottom: 811, left: 0, right: 73.3} },
    plugins: {
      legend: {display: false}, tooltip: {enabled: false},
      frame: { leftColor: RED },
      richTitle: { x: 39, size: 17.5, color: RED, parts: [['Redness (a*)', '']] },
      siteLabel: { text: 'Zmajevac', x: 122, y: 437, size: 42 }
    },
    scales: {
      x: xAxis(false),
      y: {
        type: 'linear', min: 2.215, max: 9.157,
        ticks: { stepSize: 2, includeBounds: false, padding: 8, color: RED, font: {size: 17} },
        grid: { drawOnChartArea: false, drawTicks: true, tickLength: 8, tickColor: RED, tickWidth: 1.5 },
        border: { display: false },
        afterFit: fixedY(112)
      }
    }
  }
});

// ---- panel 3: chi_fd with arrows and age markers ----
const fdMarks = {
  id: 'fdMarks',
  afterDatasetsDraw(chart) {
    const xs = chart.scales.x, ys = chart.scales.y, ctx = chart.ctx;
    const a = chart.chartArea;
    ctx.save();
    ctx.beginPath(); ctx.rect(a.left, a.top, a.right - a.left, a.bottom - a.top); ctx.clip();
    // purple age error bars
    ctx.strokeStyle = '#9932CC';
    ctx.lineWidth = 1.6;
    markAge.forEach((age, i) => {
      const yc = ys.getPixelForValue(markRow[i]);
      const x0 = xs.getPixelForValue(age - markErr[i]);
      const x1 = xs.getPixelForValue(age + markErr[i]);
      const xc = xs.getPixelForValue(age);
      ctx.beginPath();
      ctx.moveTo(x0, yc); ctx.lineTo(x1, yc);
      [x0, xc, x1].forEach(x => { ctx.moveTo(x, yc - 6); ctx.lineTo(x, yc + 6); });
      ctx.stroke();
    });
    // red arrows, tip at the value
    ctx.fillStyle = '#f00000';
    arrowAge.forEach((age, i) => {
      const x = xs.getPixelForValue(age), y = ys.getPixelForValue(arrowVal[i]);
      ctx.beginPath();
      ctx.moveTo(x, y);
      ctx.lineTo(x - 5.5, y - 6.5);
      ctx.lineTo(x - 2.9, y - 6.5);
      ctx.lineTo(x - 2.9, y - 16);
      ctx.lineTo(x + 2.9, y - 16);
      ctx.lineTo(x + 2.9, y - 6.5);
      ctx.lineTo(x + 5.5, y - 6.5);
      ctx.closePath();
      ctx.fill();
    });
    ctx.restore();
  }
};

new Chart(document.getElementById('c3'), {
  type: 'line',
  data: { datasets: [{
    data: pts(chiFd), borderColor: '#000', borderWidth: 1.2, pointRadius: 0, fill: false, spanGaps: false, tension: 0
  }]},
  options: {
    ...base,
    layout: { padding: {top: 760, bottom: 433.5, left: 112, right: 0} },
    plugins: {
      legend: {display: false}, tooltip: {enabled: false},
      richTitle: { x: 1077, size: 18, parts: [['χ', ''], ['fd', 'sub'], ['(%)', '']] },
      siteLabel: { text: 'Zmajevac', x: 123, y: 793, size: 42 }
    },
    scales: {
      x: xAxis(false),
      y: {
        type: 'linear', position: 'right', min: -0.164, max: 12.74,
        ticks: { stepSize: 4, includeBounds: false, padding: 7, color: '#222', font: {size: 17} },
        grid: { drawOnChartArea: false, drawTicks: true, tickLength: 8, tickColor: AXIS, tickWidth: 1.5 },
        border: { display: false },
        afterFit: fixedY(73.3)
      }
    }
  },
  plugins: [fdMarks]
});

// ---- panel 4: Pleven chi_lf ----
const horizons = {
  id: 'horizons',
  beforeDatasetsDraw(chart) {
    const xs = chart.scales.x, ctx = chart.ctx, a = chart.chartArea;
    ctx.save();
    ctx.beginPath(); ctx.rect(a.left, a.top, a.right - a.left, a.bottom - a.top); ctx.clip();
    ctx.fillStyle = '#FFA500';
    orangeStart.forEach((s, i) => {
      const x0 = xs.getPixelForValue(s), x1 = xs.getPixelForValue(orangeEnd[i]);
      ctx.fillRect(x0, a.top, Math.max(x1 - x0, 2), a.bottom - a.top);
    });
    ctx.strokeStyle = 'rgba(105,105,105,0.85)';
    ctx.lineWidth = 1.6;
    tephraAge.forEach(t => {
      const x = xs.getPixelForValue(t);
      ctx.beginPath(); ctx.moveTo(x, a.top); ctx.lineTo(x, a.bottom); ctx.stroke();
    });
    ctx.restore();
  }
};

new Chart(document.getElementById('c4'), {
  type: 'line',
  data: { datasets: [{
    data: pts(chiLf), borderColor: '#000', borderWidth: 1.2, pointRadius: 0, fill: false, tension: 0
  }]},
  options: {
    ...base,
    layout: { padding: {top: 1137.5, bottom: 0, left: 0, right: 73.3} },
    plugins: {
      legend: {display: false}, tooltip: {enabled: false},
      richTitle: { x: 49, size: 16, parts: [['χ', ''], ['lf', 'sub'], [' x10', ''], ['−8', 'sup'], [' (m', ''], ['3', 'sup'], ['kg', ''], ['−1', 'sup'], [')', '']] },
      siteLabel: { text: 'Pleven', x: 124, y: 1499, size: 41 }
    },
    scales: {
      x: xAxis(true),
      y: {
        type: 'linear', min: 14.67, max: 188.4,
        ticks: { stepSize: 10, includeBounds: false, autoSkip: false, padding: 4, color: '#222', font: {size: 15},
                 callback: v => (v % 50 === 0 ? String(v) : '') },
        grid: { drawOnChartArea: false, drawTicks: true, tickLength: 12, tickColor: AXIS, tickWidth: 1.5 },
        border: { display: false },
        afterFit: fixedY(112)
      }
    }
  },
  plugins: [horizons]
});
</script>
</body>
</html>
